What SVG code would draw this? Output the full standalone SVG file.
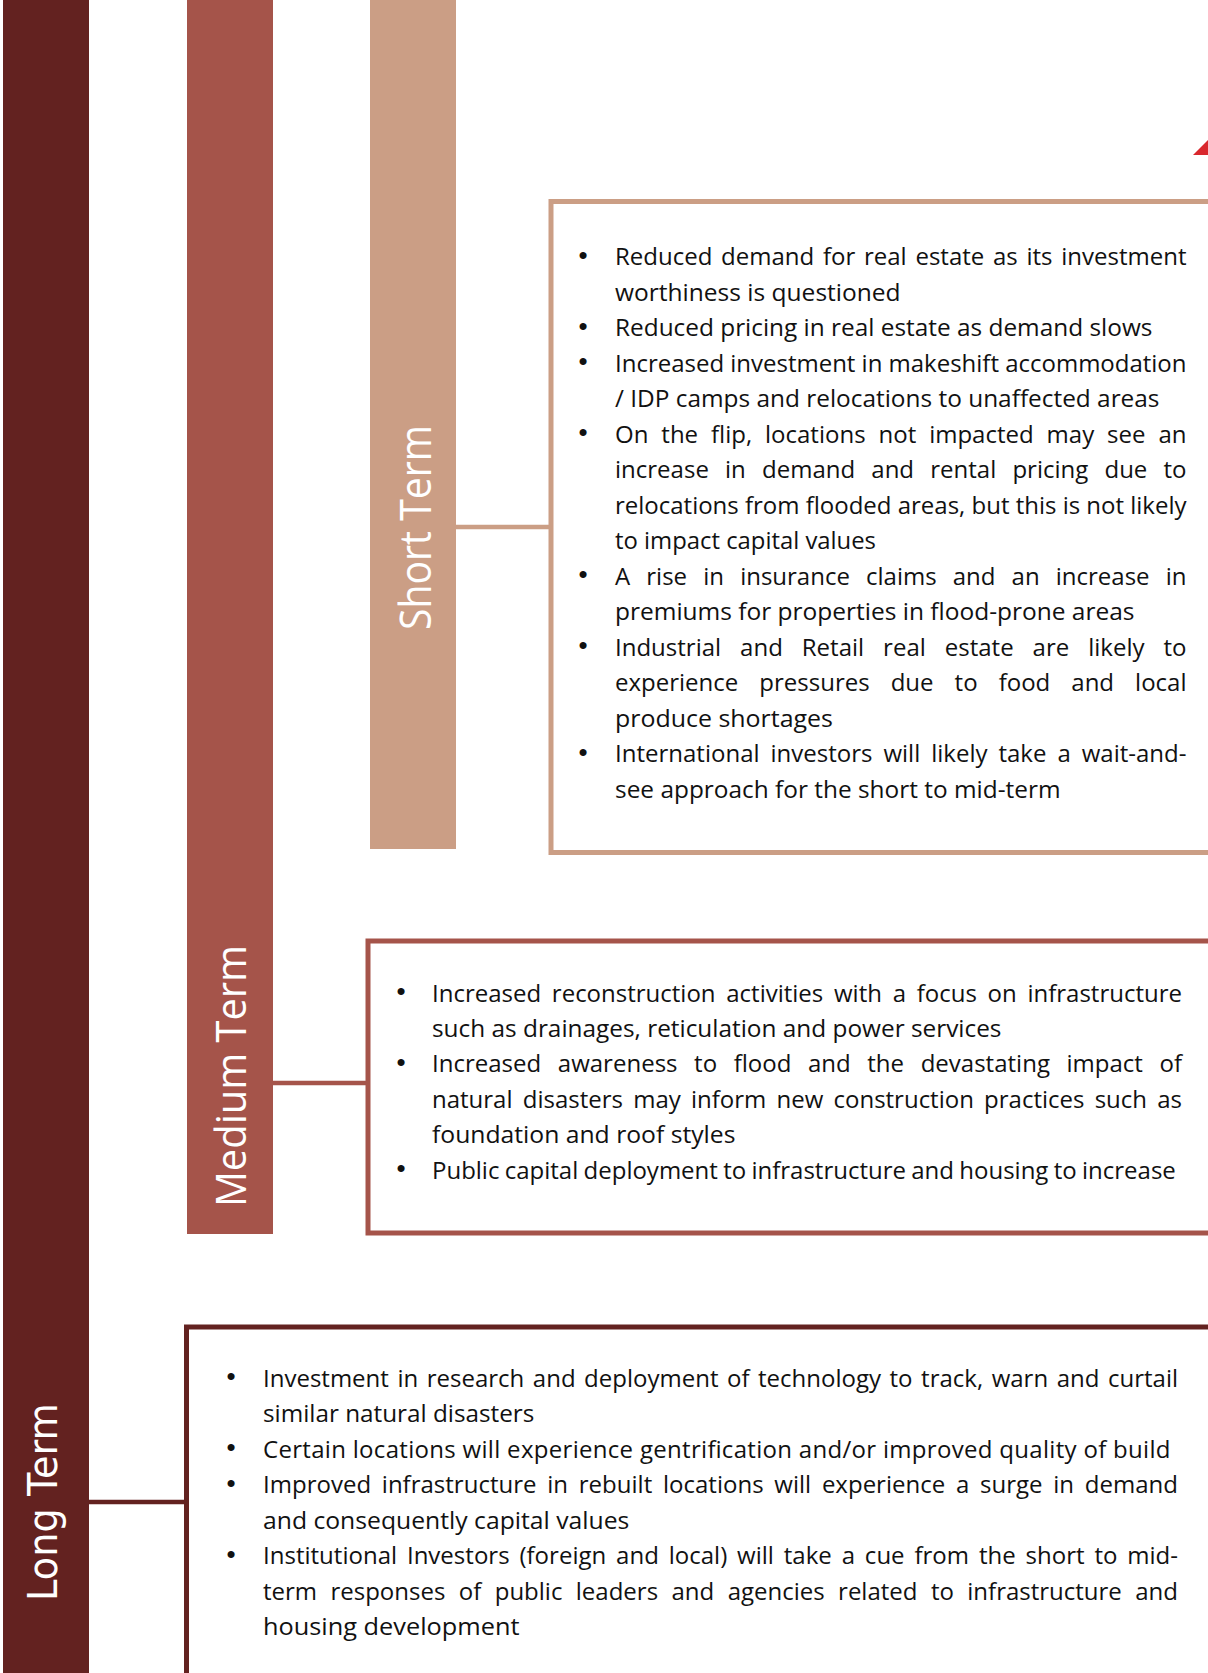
<svg xmlns="http://www.w3.org/2000/svg" width="1208" height="1673" viewBox="0 0 1208 1673">
<style>
.body{font-family:"Open Sans","Noto Sans","Liberation Sans",sans-serif;font-size:24px;fill:#111111}
.bul{font-family:"Liberation Sans","Arial",sans-serif;font-size:26px;fill:#111111;text-anchor:middle}
.lbl{font-family:"Open Sans","Noto Sans","Liberation Sans",sans-serif;fill:#ffffff;text-anchor:middle}
.lbl2{font-family:"DejaVu Sans","Liberation Sans",sans-serif;fill:#ffffff;text-anchor:middle}
.box{fill:#ffffff;stroke-width:5}
.conn{stroke-width:4.5;fill:none}
</style>
<rect width="1208" height="1673" fill="#ffffff"/>

<g id="long-term">
  <rect x="3" y="0" width="86" height="1673" fill="#632220"/>
  <text class="lbl2" font-size="41" textLength="198" lengthAdjust="spacingAndGlyphs" transform="translate(56.5,1502) rotate(-90)">Long Term</text>
</g>
<g id="medium-term">
  <rect x="187" y="0" width="86" height="1234" fill="#A5544A"/>
  <text class="lbl" font-size="42" textLength="262" lengthAdjust="spacingAndGlyphs" transform="translate(245.5,1076) rotate(-90)">Medium Term</text>
</g>
<g id="short-term">
  <rect x="370" y="0" width="86" height="849" fill="#CB9E85"/>
  <text class="lbl" font-size="43" textLength="205" lengthAdjust="spacingAndGlyphs" transform="translate(430.5,527.5) rotate(-90)">Short Term</text>
</g>

<g id="connectors">
  <line class="conn" x1="456" y1="527" x2="551" y2="527" stroke="#CB9E85"/>
  <line class="conn" x1="273" y1="1083" x2="368" y2="1083" stroke="#A5544A"/>
  <line class="conn" x1="89" y1="1502" x2="186" y2="1502" stroke="#632220"/>
</g>

<g id="short-box">
  <rect class="box" x="551" y="201.5" width="700" height="651" stroke="#CB9E85"/>
  <g>
    <text class="bul" x="583" y="263.5">•</text>
    <text class="bul" x="583" y="334.5">•</text>
    <text class="bul" x="583" y="370">•</text>
    <text class="bul" x="583" y="441">•</text>
    <text class="bul" x="583" y="583">•</text>
    <text class="bul" x="583" y="654">•</text>
    <text class="bul" x="583" y="760.5">•</text>
  </g>
  <text class="body" x="615" y="265" word-spacing="2.5" textLength="571.5" lengthAdjust="spacing">Reduced demand for real estate as its investment</text>
  <text class="body" x="615" y="300.5" textLength="285.6" lengthAdjust="spacingAndGlyphs">worthiness is questioned</text>
  <text class="body" x="615" y="336" textLength="537.4" lengthAdjust="spacingAndGlyphs">Reduced pricing in real estate as demand slows</text>
  <text class="body" x="615" y="371.5" textLength="571.5" lengthAdjust="spacing">Increased investment in makeshift accommodation</text>
  <text class="body" x="615" y="407" textLength="544.5" lengthAdjust="spacingAndGlyphs">/ IDP camps and relocations to unaffected areas</text>
  <text class="body" x="615" y="442.5" word-spacing="6.7" textLength="571.5" lengthAdjust="spacing">On the flip, locations not impacted may see an</text>
  <text class="body" x="615" y="478" word-spacing="9.9" textLength="571.5" lengthAdjust="spacing">increase in demand and rental pricing due to</text>
  <text class="body" x="615" y="513.5" textLength="571.5" lengthAdjust="spacing">relocations from flooded areas, but this is not likely</text>
  <text class="body" x="615" y="549" textLength="261" lengthAdjust="spacingAndGlyphs">to impact capital values</text>
  <text class="body" x="615" y="584.5" word-spacing="9.9" textLength="571.5" lengthAdjust="spacing">A rise in insurance claims and an increase in</text>
  <text class="body" x="615" y="620" textLength="519.5" lengthAdjust="spacingAndGlyphs">premiums for properties in flood-prone areas</text>
  <text class="body" x="615" y="655.5" word-spacing="12.7" textLength="571.5" lengthAdjust="spacing">Industrial and Retail real estate are likely to</text>
  <text class="body" x="615" y="691" word-spacing="14.8" textLength="571.5" lengthAdjust="spacing">experience pressures due to food and local</text>
  <text class="body" x="615" y="726.5" textLength="218" lengthAdjust="spacingAndGlyphs">produce shortages</text>
  <text class="body" x="615" y="762" word-spacing="4.7" textLength="571.5" lengthAdjust="spacing">International investors will likely take a wait-and-</text>
  <text class="body" x="615" y="797.5" textLength="445.5" lengthAdjust="spacingAndGlyphs">see approach for the short to mid-term</text>
</g>

<g id="medium-box">
  <rect class="box" x="368" y="941" width="900" height="292" stroke="#A5544A"/>
  <g>
    <text class="bul" x="401" y="1000">•</text>
    <text class="bul" x="401" y="1070.8">•</text>
    <text class="bul" x="401" y="1177">•</text>
  </g>
  <text class="body" x="432" y="1001.5" word-spacing="4.5" textLength="750" lengthAdjust="spacing">Increased reconstruction activities with a focus on infrastructure</text>
  <text class="body" x="432" y="1036.9" textLength="569.5" lengthAdjust="spacingAndGlyphs">such as drainages, reticulation and power services</text>
  <text class="body" x="432" y="1072.3" word-spacing="10.3" textLength="750" lengthAdjust="spacing">Increased awareness to flood and the devastating impact of</text>
  <text class="body" x="432" y="1107.7" word-spacing="4" textLength="750" lengthAdjust="spacing">natural disasters may inform new construction practices such as</text>
  <text class="body" x="432" y="1143.1" textLength="303.5" lengthAdjust="spacingAndGlyphs">foundation and roof styles</text>
  <text class="body" x="432" y="1178.5" word-spacing="-0.9" textLength="743.8" lengthAdjust="spacing">Public capital deployment to infrastructure and housing to increase</text>
</g>

<g id="long-box">
  <rect class="box" x="186.5" y="1327" width="1100" height="400" stroke="#632220"/>
  <g>
    <text class="bul" x="231" y="1385.2">•</text>
    <text class="bul" x="231" y="1456.2">•</text>
    <text class="bul" x="231" y="1491.7">•</text>
    <text class="bul" x="231" y="1562.7">•</text>
  </g>
  <text class="body" x="263" y="1386.7" word-spacing="2.3" textLength="915" lengthAdjust="spacing">Investment in research and deployment of technology to track, warn and curtail</text>
  <text class="body" x="263" y="1422.2" textLength="271.3" lengthAdjust="spacingAndGlyphs">similar natural disasters</text>
  <text class="body" x="263" y="1457.7" textLength="907.5" lengthAdjust="spacing">Certain locations will experience gentrification and/or improved quality of build</text>
  <text class="body" x="263" y="1493.2" word-spacing="4.5" textLength="915" lengthAdjust="spacing">Improved infrastructure in rebuilt locations will experience a surge in demand</text>
  <text class="body" x="263" y="1528.7" textLength="366.3" lengthAdjust="spacingAndGlyphs">and consequently capital values</text>
  <text class="body" x="263" y="1564.2" word-spacing="3.6" textLength="915" lengthAdjust="spacing">Institutional Investors (foreign and local) will take a cue from the short to mid-</text>
  <text class="body" x="263" y="1599.7" word-spacing="7.2" textLength="915" lengthAdjust="spacing">term responses of public leaders and agencies related to infrastructure and</text>
  <text class="body" x="263" y="1635.2" textLength="256.5" lengthAdjust="spacingAndGlyphs">housing development</text>
</g>

<polygon points="1193,155 1209,139 1209,155" fill="#D9272D"/>
</svg>
